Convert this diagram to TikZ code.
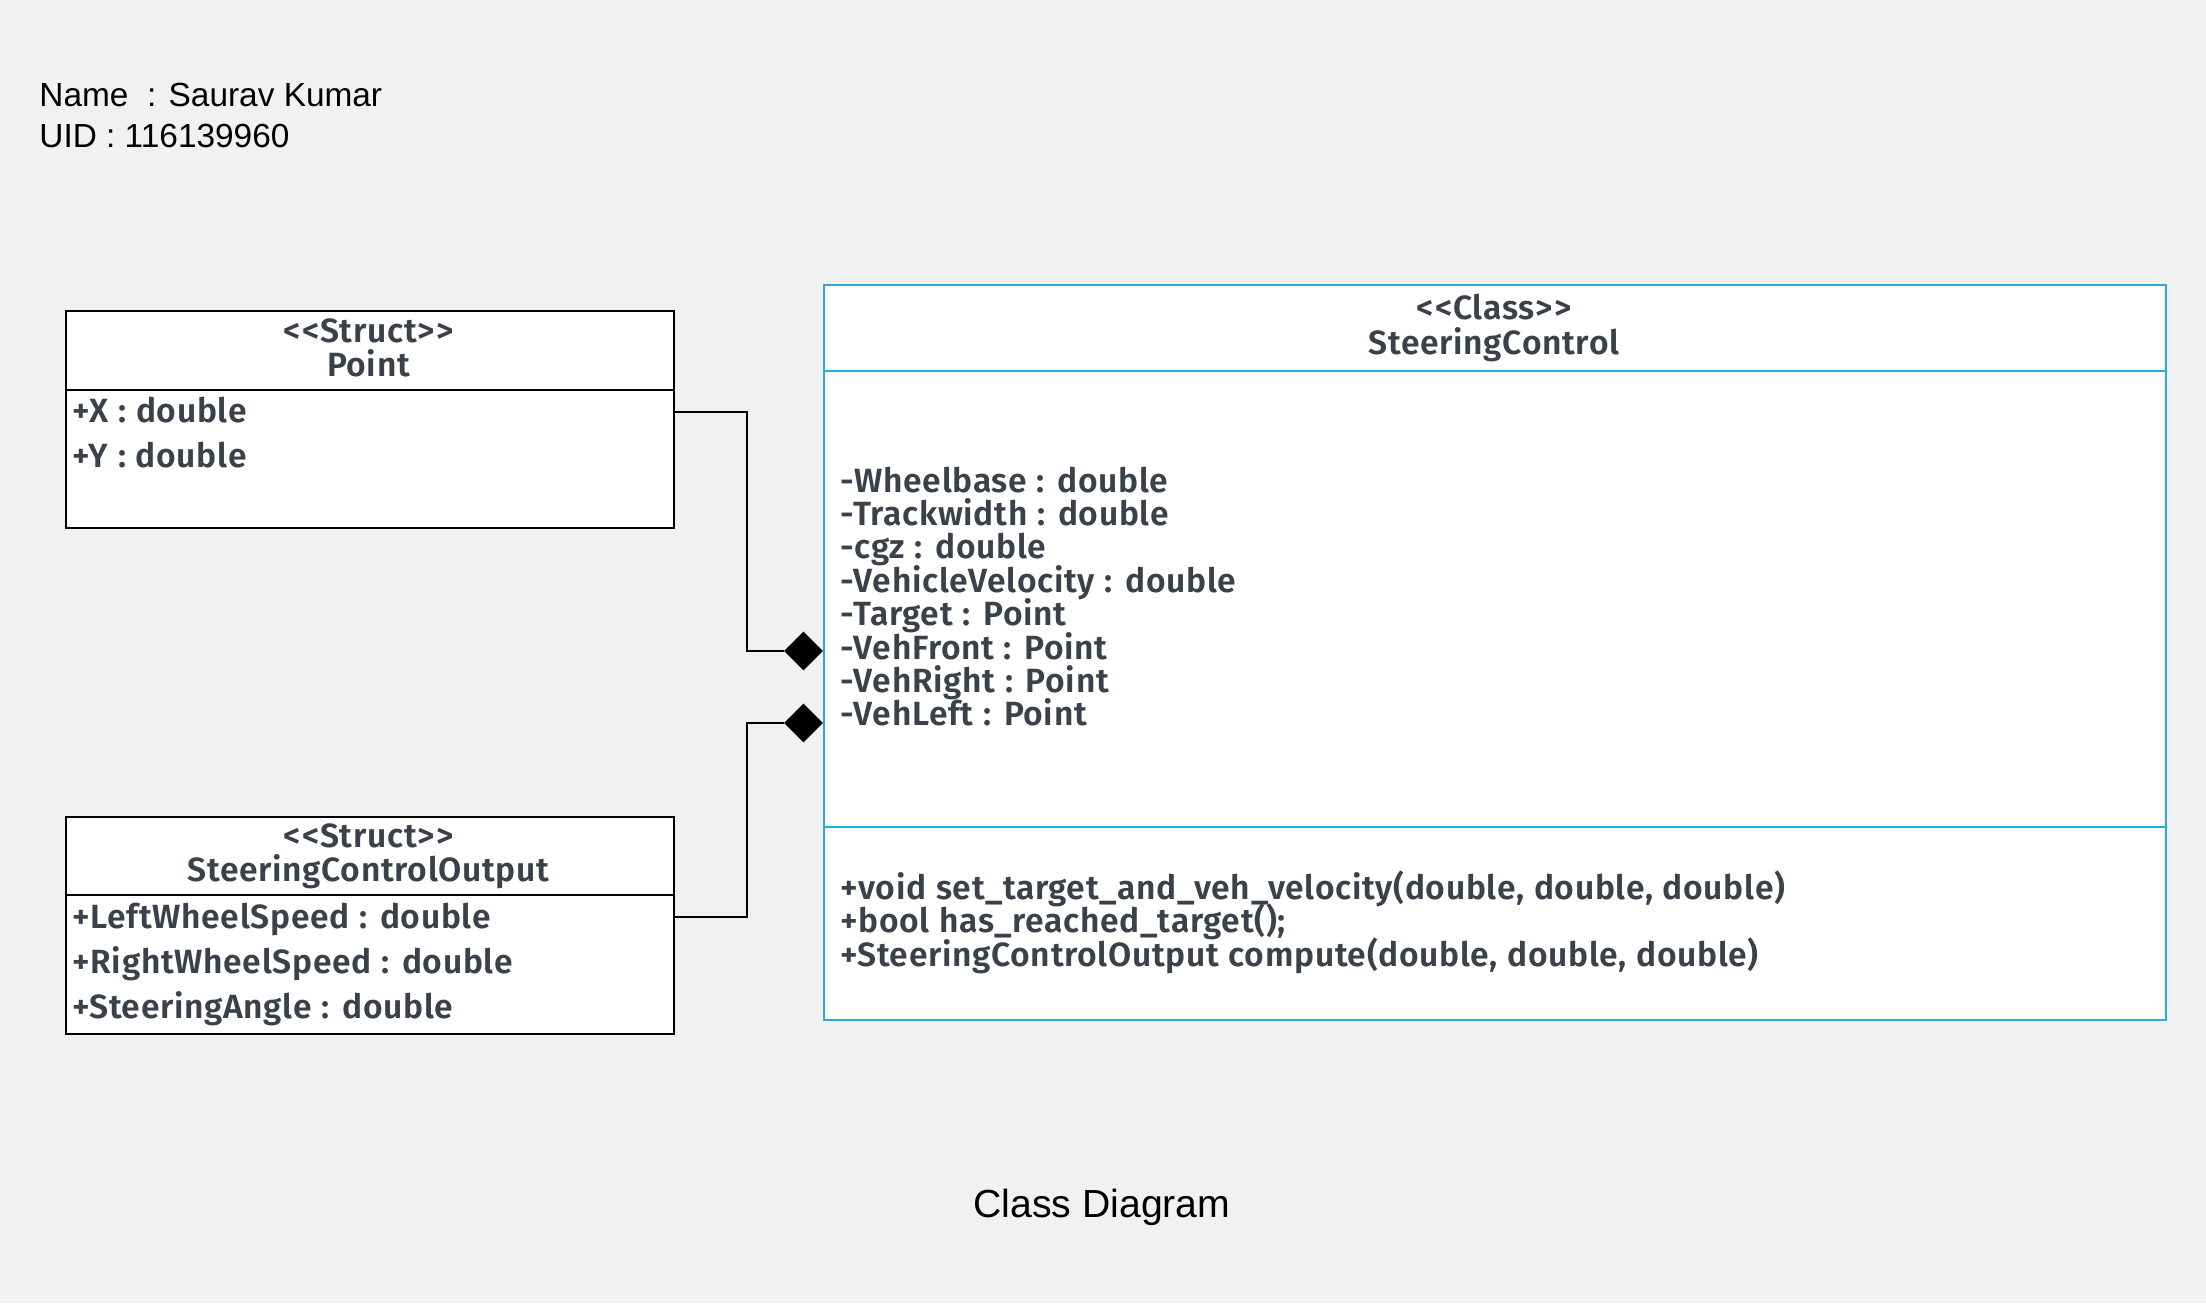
\documentclass[tikz,border=0pt]{standalone}
\usepackage{fontspec}
\setmainfont{Liberation Sans}
\newfontfamily\umlfont{Fira Sans SemiBold}[WordSpace=1.1,LetterSpace=2]
\usetikzlibrary{shapes.geometric}
\definecolor{pagebg}{RGB}{241,241,241}
\definecolor{umltext}{RGB}{58,65,74}
\definecolor{sclblue}{RGB}{41,170,225}
\newcommand\stereo[1]{<\kern1pt<#1>\kern1pt>}
\tikzset{
  umlbox/.style={draw=black,line width=1pt,fill=white,rectangle,inner sep=0,anchor=north west},
  umlhead/.style={font=\umlfont\fontsize{16.8}{17.5}\selectfont,text=umltext,anchor=base,inner sep=0},
  umlattr/.style={font=\umlfont\fontsize{16.8}{17}\selectfont,text=umltext,anchor=base west,inner sep=0},
  plaintext/.style={anchor=base west,inner sep=0,font=\fontsize{16.7}{20}\selectfont},
  compose/.style={diamond,fill=black,inner sep=0,minimum width=19.5pt,minimum height=19.5pt},
  link/.style={line width=1pt}
}
\begin{document}
\begin{tikzpicture}[x=0.5pt,y=-0.5pt]
\fill[pagebg] (0,0) rectangle (2206,1303);
\useasboundingbox (0,0) rectangle (2206,1303);
% name and uid
\node[plaintext] (name) at (39,106) {Name\ \ : Saurav Kumar};
\node[plaintext] (uid) at (39,147) {UID : 116139960};
% struct Point
\node[umlbox,minimum width=303.75pt,minimum height=108.25pt] (point) at (65,310) {};
\draw[link] ([yshift=-40pt]point.north west) -- ([yshift=-40pt]point.north east);
\node[umlhead] (pointst) at (368.5,342) {\stereo{Struct}};
\node[umlhead] (pointname) at (368.5,376) {Point};
\node[umlattr] (px) at (72,422) {+X : double};
\node[umlattr] (py) at (72,467) {+Y : double};
% struct SteeringControlOutput
\node[umlbox,minimum width=303.75pt,minimum height=108.3pt] (sco) at (65,816) {};
\draw[link] ([yshift=-39.5pt]sco.north west) -- ([yshift=-39.5pt]sco.north east);
\node[umlhead] (scost) at (368.5,847) {\stereo{Struct}};
\node[umlhead] (sconame) at (368.5,881) {SteeringControlOutput};
\node[umlattr] (scol) at (72,928) {+LeftWheelSpeed : double};
\node[umlattr] (scor) at (72,973) {+RightWheelSpeed : double};
\node[umlattr] (scoa) at (72,1018) {+SteeringAngle : double};
% class SteeringControl
\node[umlbox,draw=sclblue,minimum width=671pt,minimum height=367.3pt] (sc) at (823,284) {};
\draw[link,sclblue] ([yshift=-43.5pt]sc.north west) -- ([yshift=-43.5pt]sc.north east);
\draw[link,sclblue] ([yshift=-271.5pt]sc.north west) -- ([yshift=-271.5pt]sc.north east);
\node[umlhead] (scst) at (1494,319) {\stereo{Class}};
\node[umlhead] (scname) at (1494,354) {SteeringControl};
\foreach \t [count=\i from 0] in {-Wheelbase : double,-Trackwidth : double,-cgz : double,-VehicleVelocity : double,-Target : Point,-VehFront : Point,-VehRight : Point,-VehLeft : Point}
  \node[umlattr] (scattr\i) at (840,{492+33.4*\i}) {\t};
\foreach \t [count=\i from 0] in {{+void set\_target\_and\_veh\_velocity(double, double, double)},{+bool has\_reached\_target();},{+SteeringControlOutput compute(double, double, double)}}
  \node[umlattr] (scop\i) at (840,{899+33.5*\i}) {\t};
% composition links
\node[compose] (dtop) at (803.5,651) {};
\node[compose] (dbot) at (803.5,723) {};
\coordinate (ptbend) at (747,412);
\coordinate (scobend) at (747,917);
\draw[link] (point.east |- ptbend) -- (ptbend) |- (dtop.west);
\draw[link] (sco.east |- scobend) -- (scobend) |- (dbot.west);
% caption
\node[anchor=base,inner sep=0,font=\fontsize{19.6}{24}\selectfont] (caption) at (1102,1217) {Class Diagram};
\end{tikzpicture}
\end{document}
